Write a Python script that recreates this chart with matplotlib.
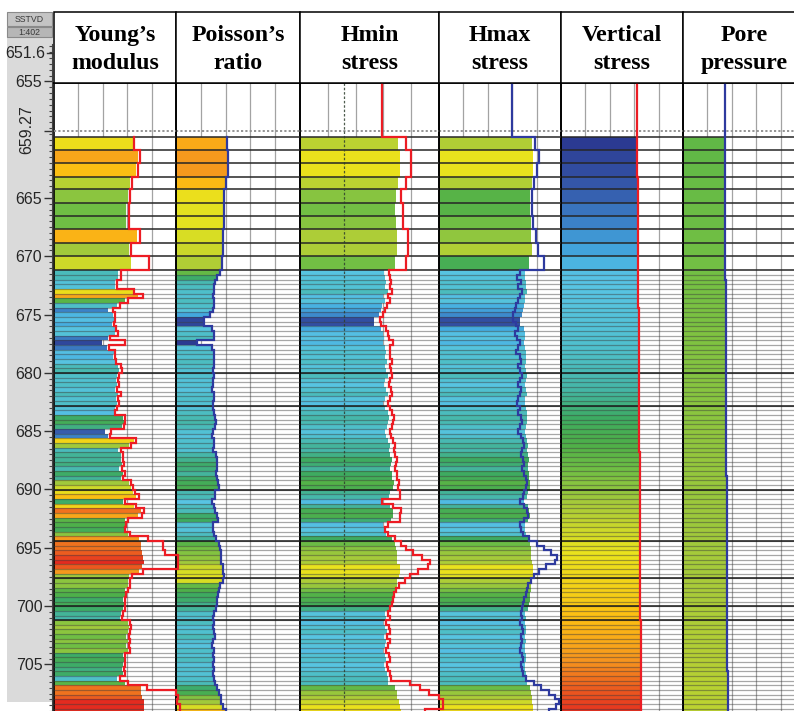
import numpy as np
import matplotlib
matplotlib.use("Agg")
import matplotlib.pyplot as plt
from matplotlib.colors import LinearSegmentedColormap, Normalize
from matplotlib.patches import Rectangle
from matplotlib.lines import Line2D
from matplotlib.ticker import FixedLocator, MultipleLocator

# ---------------------------------------------------------------- data
# Layer boundaries (m, SSTVD): coarse layers of the upper unit, then the
# regular 0.4 m sampling of the lower unit.
upper_bounds = [659.74, 660.88, 662.02, 663.17, 664.25, 665.43, 666.54,
                667.66, 668.86, 670.02, 671.21]
lower_step = 0.4
lower_count = 95
zone_tops = [680.01, 682.81, 690.01, 694.41, 697.61, 700.01, 701.21]
interval_top = 659.27

# Young's modulus (GPa): layer value and raw log curve
youngs = [32.2, 34.3, 33.5, 31.0, 30.2, 29.7, 29.7, 33.9, 30.6, 31.4,
          26.4, 26.4, 25.2, 25.2, 32.2, 34.3, 29.3, 26.0, 22.3, 24.0,
          24.4, 23.6, 24.8, 25.2, 22.0, 19.8, 21.9, 24.4, 24.0, 24.8,
          26.4, 26.8, 26.0, 25.6, 26.0, 25.2, 26.4, 25.6, 26.0, 25.2,
          24.4, 28.1, 28.5, 27.7, 21.0, 22.3, 32.6, 30.6, 26.4, 27.3,
          27.3, 27.7, 26.8, 28.1, 27.3, 30.6, 31.4, 32.2, 33.5, 28.1,
          32.6, 35.5, 34.3, 29.3, 29.0, 28.5, 30.2, 34.7, 35.5, 35.5,
          35.9, 36.4, 36.8, 36.0, 34.7, 30.6, 30.2, 30.2, 29.3, 29.0,
          28.1, 28.5, 28.1, 27.3, 27.0, 30.2, 30.6, 30.2, 29.7, 30.2,
          29.7, 30.2, 28.1, 28.5, 28.1, 27.7, 28.1, 26.0, 29.3, 35.5,
          35.5, 35.9, 36.8, 36.8, 36.8]
youngs_log = [32.8, 35.1, 34.3, 31.8, 31.0, 30.6, 30.6, 35.1, 31.4, 38.8,
              27.3, 27.3, 26.0, 26.0, 32.8, 36.4, 30.2, 27.0, 24.0, 25.0,
              25.2, 24.6, 25.6, 26.4, 23.0, 29.3, 22.5, 25.2, 25.0, 25.6,
              27.3, 27.7, 26.8, 26.4, 26.8, 26.0, 27.3, 26.4, 26.8, 26.0,
              25.2, 28.9, 29.3, 28.5, 23.5, 23.1, 33.5, 31.4, 27.3, 28.1,
              28.1, 28.5, 27.7, 28.9, 28.1, 31.4, 32.2, 33.1, 34.7, 28.9,
              33.5, 36.8, 35.9, 30.2, 29.7, 29.3, 31.0, 38.4, 44.6, 44.6,
              45.5, 51.0, 51.0, 51.0, 36.4, 31.8, 31.0, 31.0, 30.2, 29.7,
              28.9, 29.3, 28.9, 28.1, 27.7, 31.0, 31.4, 31.0, 30.6, 31.0,
              30.6, 31.0, 28.9, 29.3, 28.9, 28.5, 28.9, 27.0, 30.2, 38.0,
              50.0, 51.0, 50.5, 51.5, 51.5]

# Poisson's ratio
poisson = [0.224, 0.226, 0.226, 0.222, 0.216, 0.215, 0.215, 0.214, 0.213, 0.211,
           0.206, 0.200, 0.195, 0.193, 0.192, 0.190, 0.193, 0.192, 0.189, 0.182,
           0.168, 0.168, 0.188, 0.192, 0.193, 0.150, 0.188, 0.192, 0.191, 0.193,
           0.192, 0.190, 0.191, 0.189, 0.190, 0.188, 0.191, 0.192, 0.190, 0.189,
           0.193, 0.195, 0.196, 0.194, 0.190, 0.188, 0.191, 0.192, 0.190, 0.196,
           0.198, 0.200, 0.199, 0.197, 0.200, 0.202, 0.203, 0.195, 0.194, 0.187,
           0.193, 0.194, 0.200, 0.201, 0.190, 0.189, 0.193, 0.197, 0.205, 0.207,
           0.208, 0.209, 0.210, 0.213, 0.214, 0.215, 0.214, 0.206, 0.204, 0.201,
           0.200, 0.198, 0.197, 0.192, 0.190, 0.193, 0.189, 0.191, 0.194, 0.190,
           0.188, 0.192, 0.190, 0.193, 0.189, 0.191, 0.190, 0.192, 0.194, 0.200,
           0.203, 0.208, 0.210, 0.214, 0.222]

# Minimum horizontal stress (MPa): layer value and raw log curve
hmin = [12.05, 12.2, 12.2, 12.05, 11.9, 11.85, 11.9, 12.0, 12.0, 11.85,
        11.05, 11.1, 11.2, 11.15, 11.3, 11.0, 11.1, 10.9, 10.8, 10.7,
        10.35, 10.35, 10.85, 11.0, 11.05, 10.95, 11.1, 11.2, 11.15, 11.25,
        11.1, 11.2, 11.3, 11.15, 11.05, 11.2, 11.3, 11.1, 11.0, 11.15,
        11.3, 11.4, 11.35, 11.25, 11.1, 11.2, 11.35, 11.45, 11.4, 11.5,
        11.6, 11.55, 11.45, 11.6, 11.65, 11.75, 11.7, 11.47, 11.4, 10.97,
        11.45, 11.67, 11.7, 11.55, 11.0, 11.05, 11.2, 11.6, 11.83, 11.9,
        11.95, 11.98, 12.0, 12.19, 12.2, 12.15, 12.0, 11.95, 11.85, 11.75,
        11.7, 11.65, 11.5, 11.1, 11.2, 11.0, 11.15, 11.25, 11.05, 11.2,
        11.1, 11.0, 11.15, 11.2, 11.05, 11.1, 11.25, 11.3, 11.3, 11.8,
        11.95, 12.0, 12.1, 12.2, 12.25]
hmin_log = [12.62, 12.98, 12.98, 12.62, 12.27, 12.4, 12.4, 12.8, 12.8, 12.62,
            11.4, 11.5, 11.55, 11.5, 11.6, 11.35, 11.45, 11.25, 11.15, 11.0,
            10.75, 10.8, 11.2, 11.35, 11.4, 11.7, 11.5, 11.5, 11.45, 11.6,
            11.45, 11.55, 11.65, 11.5, 11.4, 11.55, 11.65, 11.45, 11.35, 11.5,
            11.65, 11.75, 11.7, 11.6, 11.45, 11.55, 11.7, 11.8, 11.75, 11.85,
            11.95, 11.9, 11.8, 11.95, 12.0, 12.1, 12.05, 12.19, 12.19, 10.9,
            11.7, 12.3, 12.19, 12.19, 11.3, 11.1, 11.3, 11.8, 12.3, 12.6,
            13.1, 13.8, 14.35, 14.2, 13.5, 12.9, 12.55, 12.1, 11.9, 11.75,
            11.7, 11.65, 11.5, 11.3, 11.45, 11.2, 11.4, 11.5, 11.25, 11.45,
            11.35, 11.2, 11.4, 11.45, 11.25, 11.35, 11.5, 11.55, 12.9, 13.6,
            14.3, 15.0, 15.3, 15.3, 14.0]
hmin_log_above = 10.88

# Maximum horizontal stress (MPa): layer value and raw log curve
hmax = [17.6, 17.7, 17.7, 17.6, 17.45, 17.45, 17.5, 17.55, 17.6, 17.4,
        17.04, 17.07, 17.13, 17.10, 17.19, 17.01, 17.07, 16.95, 16.90, 16.84,
        16.64, 16.64, 16.93, 17.01, 17.04, 16.98, 17.07, 17.13, 17.10, 17.16,
        17.07, 17.13, 17.19, 17.10, 17.04, 17.13, 17.19, 17.07, 17.01, 17.10,
        17.19, 17.24, 17.22, 17.16, 17.07, 17.13, 17.22, 17.27, 17.24, 17.30,
        17.36, 17.33, 17.27, 17.36, 17.39, 17.45, 17.42, 17.28, 17.24, 16.99,
        17.27, 17.40, 17.42, 17.33, 17.01, 17.04, 17.13, 17.36, 17.49, 17.53,
        17.56, 17.58, 17.59, 17.70, 17.71, 17.68, 17.59, 17.56, 17.51, 17.45,
        17.42, 17.39, 17.30, 17.07, 17.13, 17.01, 17.10, 17.16, 17.04, 17.13,
        17.07, 17.01, 17.10, 17.13, 17.04, 17.07, 17.16, 17.19, 17.19, 17.49,
        17.56, 17.59, 17.65, 17.71, 17.74]
hmax_log = [17.9, 18.2, 18.05, 17.75, 17.6, 17.6, 17.7, 17.95, 18.1, 18.6,
            16.6, 16.4, 16.7, 16.5, 16.8, 16.6, 16.45, 16.3, 16.2, 16.1,
            16.1, 16.3, 16.5, 16.2, 16.4, 16.6, 16.5, 16.3, 16.6, 16.7,
            16.5, 16.6, 16.8, 16.6, 16.5, 16.7, 16.6, 16.5, 16.4, 16.6,
            16.5, 16.7, 16.8, 16.6, 16.5, 16.7, 16.9, 17.0, 16.8, 16.7,
            16.9, 17.0, 16.8, 17.0, 17.1, 17.2, 17.1, 17.0, 16.9, 16.6,
            17.0, 17.2, 17.3, 17.0, 16.6, 16.7, 16.9, 17.4, 18.0, 18.6,
            19.2, 19.7, 19.5, 18.8, 18.2, 17.8, 17.5, 17.3, 17.2, 17.1,
            17.0, 16.9, 16.8, 16.7, 16.8, 16.6, 16.8, 16.9, 16.7, 16.8,
            16.7, 16.6, 16.8, 16.9, 16.7, 16.8, 16.9, 17.1, 17.8, 18.4,
            19.0, 19.5, 19.8, 19.6, 19.0]
hmax_log_above = 15.96

# Vertical (overburden) stress (MPa)
vertical = [15.600, 15.630, 15.650, 15.680, 15.700, 15.730, 15.750, 15.780, 15.800, 15.830,
            15.855, 15.860, 15.862, 15.866, 15.870, 15.872, 15.876, 15.880, 15.883, 15.886,
            15.890, 15.893, 15.897, 15.905, 15.912, 15.918, 15.925, 15.931, 15.938, 15.944,
            15.950, 15.957, 15.963, 15.970, 15.977, 15.985, 15.993, 16.001, 16.009, 16.017,
            16.025, 16.033, 16.041, 16.049, 16.057, 16.065, 16.071, 16.077, 16.083, 16.089,
            16.095, 16.101, 16.107, 16.113, 16.119, 16.125, 16.131, 16.137, 16.143, 16.149,
            16.155, 16.161, 16.167, 16.173, 16.179, 16.185, 16.191, 16.197, 16.202, 16.207,
            16.212, 16.217, 16.222, 16.227, 16.232, 16.237, 16.242, 16.247, 16.252, 16.257,
            16.263, 16.269, 16.275, 16.281, 16.287, 16.293, 16.299, 16.305, 16.311, 16.317,
            16.325, 16.333, 16.341, 16.349, 16.357, 16.365, 16.373, 16.381, 16.389, 16.397,
            16.405, 16.413, 16.421, 16.429, 16.437]
vertical_above = 15.62

# Pore pressure (MPa)
pore = [6.850, 6.861, 6.873, 6.884, 6.895, 6.906, 6.918, 6.929, 6.940, 6.952,
        6.963, 6.967, 6.971, 6.975, 6.979, 6.983, 6.986, 6.990, 6.994, 6.998,
        7.002, 7.006, 7.010, 7.014, 7.018, 7.022, 7.025, 7.029, 7.033, 7.037,
        7.041, 7.045, 7.049, 7.053, 7.057, 7.061, 7.064, 7.068, 7.072, 7.076,
        7.080, 7.084, 7.088, 7.092, 7.096, 7.100, 7.104, 7.107, 7.111, 7.115,
        7.119, 7.123, 7.127, 7.131, 7.135, 7.139, 7.143, 7.146, 7.150, 7.154,
        7.158, 7.162, 7.166, 7.170, 7.174, 7.178, 7.182, 7.185, 7.189, 7.193,
        7.197, 7.201, 7.205, 7.209, 7.213, 7.217, 7.221, 7.224, 7.228, 7.232,
        7.236, 7.240, 7.244, 7.248, 7.252, 7.256, 7.260, 7.263, 7.267, 7.271,
        7.275, 7.279, 7.283, 7.287, 7.291, 7.295, 7.299, 7.302, 7.306, 7.310,
        7.314, 7.318, 7.322, 7.326, 7.330]
pore_above = 6.85

depth_major = [655, 665, 670, 675, 680, 685, 690, 695, 700, 705]

# ---------------------------------------------------------------- layout
W, H = 794, 711
TOP_DEPTH, BASE_DEPTH = 655.14, 709.0
PLOT_TOP, PLOT_BOTTOM = 83, 711
HEAD_TOP = 12

lower_bounds = np.round(upper_bounds[-1] + lower_step * np.arange(1, lower_count + 1), 2)
bounds = np.concatenate([upper_bounds, lower_bounds])
n_layers = len(bounds) - 1

rainbow = LinearSegmentedColormap.from_list("log_rainbow", [
    (0.00, "#2b3a92"), (0.10, "#3558a9"), (0.18, "#3b83c8"), (0.25, "#44ace0"),
    (0.31, "#58c4e4"), (0.38, "#4fc0cc"), (0.45, "#45b6a6"), (0.51, "#3dab62"),
    (0.56, "#4fb048"), (0.60, "#72bf44"), (0.65, "#a8cb39"), (0.72, "#e9e31d"),
    (0.80, "#fcc212"), (0.88, "#f6961e"), (1.00, "#e3241f")])

RED, BLUE = "#ec1c24", "#2e3a9e"

tracks = [
    dict(title=("Young\u2019s", "modulus"), x0=54, x1=176, xlim=(0, 50), grid=[10, 20, 30, 40],
         fill=youngs, curve=youngs_log, above=None, crange=(19, 37), color=RED),
    dict(title=("Poisson\u2019s", "ratio"), x0=176, x1=300, xlim=(0.1, 0.4),
         grid=[0.16, 0.22, 0.28, 0.34], fill=poisson, curve=poisson, above=None,
         crange=(0.165, 0.235), color=BLUE),
    dict(title=("Hmin", "stress"), x0=300, x1=439, xlim=(5, 15), grid=[7, 9, 11, 13],
         fill=hmin, curve=hmin_log, above=hmin_log_above, crange=(10.15, 12.98), color=RED,
         ref=8.2),
    dict(title=("Hmax", "stress"), x0=439, x1=561, xlim=(10, 20), grid=[12, 14, 16, 18],
         fill=hmax, curve=hmax_log, above=hmax_log_above, crange=(16.52, 18.16), color=BLUE),
    dict(title=("Vertical", "stress"), x0=561, x1=683, xlim=(0, 25), grid=[5, 10, 15, 20],
         fill=vertical, curve=vertical, above=vertical_above, crange=(15.6, 16.45), color=RED),
    dict(title=("Pore", "pressure"), x0=683, x1=805, xlim=(0, 20), grid=[4, 8, 12, 16],
         fill=pore, curve=pore, above=pore_above, crange=(3.76, 9.09), color=BLUE),
]
for t in tracks:
    assert len(t["fill"]) == n_layers and len(t["curve"]) == n_layers

fig = plt.figure(figsize=(W / 100, H / 100), dpi=100)
fig.patch.set_facecolor("white")


def fx(x):
    return x / W


def fy(y):
    return 1 - y / H


def fig_rect(x0, y0, x1, y1, **kw):
    r = Rectangle((fx(x0), fy(y1)), (x1 - x0) / W, (y1 - y0) / H,
                  transform=fig.transFigure, **kw)
    fig.add_artist(r)
    return r


def step_path(values, above=None):
    ys = np.repeat(bounds, 2)[1:-1]
    xs = np.repeat(np.asarray(values, float), 2)
    if above is not None:
        ys = np.concatenate([[TOP_DEPTH, bounds[0]], ys])
        xs = np.concatenate([[above, above], xs])
    return xs, ys


# depth column background and scale header
fig_rect(7, HEAD_TOP, 53, 702, facecolor="#dadada", edgecolor="none", zorder=0)
fig_rect(7, HEAD_TOP, 52, 26, facecolor="#c4c4c4", edgecolor="#8a8a8a", lw=0.8, zorder=1)
fig_rect(7, 27, 52, 37, facecolor="#b6b6b6", edgecolor="#8a8a8a", lw=0.8, zorder=1)
fig.text(fx(29.5), fy(19.5), "SSTVD", ha="center", va="center", fontsize=6.3,
         family="Liberation Sans", color="#3a3a3a")
fig.text(fx(29.5), fy(32.2), "1:402", ha="center", va="center", fontsize=6.3,
         family="Liberation Sans", color="#3a3a3a")
fig.text(fx(45), fy(53), "651.6", ha="right", va="center", fontsize=11.5,
         family="Liberation Sans", color="#262626")
fig.add_artist(Line2D([fx(47), fx(52)], [fy(53), fy(53)], transform=fig.transFigure,
                      color="#333333", lw=1))
fig.text(fx(27), fy(130), f"{interval_top:.2f}", ha="center", va="center", rotation=90,
         fontsize=11.5, family="Liberation Sans", color="#262626")

# depth scale
depth_ax_top = 44
px_per_m = (PLOT_BOTTOM - PLOT_TOP) / (BASE_DEPTH - TOP_DEPTH)
ax_d = fig.add_axes([fx(52), fy(PLOT_BOTTOM), 1 / W, (PLOT_BOTTOM - depth_ax_top) / H])
ax_d.set_ylim(BASE_DEPTH, TOP_DEPTH - (PLOT_TOP - depth_ax_top) / px_per_m)
ax_d.set_facecolor("none")
for s in ("top", "right", "bottom"):
    ax_d.spines[s].set_visible(False)
ax_d.spines["left"].set_color("#444444")
ax_d.set_xticks([])
ax_d.yaxis.set_major_locator(FixedLocator(depth_major + [interval_top]))
ax_d.set_yticklabels([str(v) for v in depth_major] + [""])
ax_d.yaxis.set_minor_locator(MultipleLocator(0.5))
ax_d.tick_params(axis="y", which="major", direction="out", length=5.5, width=1,
                 color="#333333", pad=1.5, labelsize=11.5, labelcolor="#262626")
ax_d.tick_params(axis="y", which="minor", direction="out", length=2.5, width=0.8,
                 color="#444444")
for lab in ax_d.get_yticklabels():
    lab.set_family("Liberation Sans")

# header boxes
for t in tracks:
    fig_rect(t["x0"], HEAD_TOP, t["x1"], PLOT_TOP, facecolor="white", edgecolor="black",
             lw=1.1, zorder=2)
    xc = fx((t["x0"] + t["x1"]) / 2)
    fig.text(xc, fy(41), t["title"][0], ha="center", va="baseline", fontsize=17.2,
             family="Liberation Serif", weight="bold", zorder=3)
    fig.text(xc, fy(69), t["title"][1], ha="center", va="baseline", fontsize=17.2,
             family="Liberation Serif", weight="bold", zorder=3)

# tracks, created right to left so curves spilling over a border stay visible
for t in reversed(tracks):
    ax = fig.add_axes([fx(t["x0"]), fy(PLOT_BOTTOM), (t["x1"] - t["x0"]) / W,
                       (PLOT_BOTTOM - PLOT_TOP) / H])
    ax.set_facecolor("none")
    ax.set_xlim(*t["xlim"])
    ax.set_ylim(BASE_DEPTH, TOP_DEPTH)
    ax.set_xticks([])
    ax.set_yticks([])
    for s in ("left", "right", "top"):
        ax.spines[s].set_color("black")
        ax.spines[s].set_linewidth(1.2)
    ax.spines["bottom"].set_visible(False)

    for g in t["grid"]:
        ax.axvline(g, color="#a3a3a3", lw=0.9, zorder=1)

    norm = Normalize(*t["crange"], clip=True)
    x_left = t["xlim"][0]
    vals = np.asarray(t["fill"], float)
    tops, bases = bounds[:-1], bounds[1:]
    ax.barh(tops, vals - x_left, left=x_left, height=bases - tops, align="edge",
            color=rainbow(norm(vals)), edgecolor="none", zorder=2)

    for d in lower_bounds[:-1]:
        ax.axhline(d, color="#3c3c3c", alpha=0.45, lw=0.9, zorder=3)
    for d in upper_bounds:
        ax.axhline(d, color="#262626", lw=1.1, zorder=3.2)
    for d in zone_tops:
        ax.axhline(d, color="#1a1a1a", lw=1.1, zorder=3.2)
    ax.axhline(interval_top, color="#8c8c8c", lw=1.3, ls=(0, (1.2, 1.2)), zorder=3.2)

    if "ref" in t:
        ax.axvline(t["ref"], color="#2f3f2f", lw=0.9, ls=(0, (2, 1.5)), alpha=0.85, zorder=3.5)

    xs, ys = step_path(t["curve"], t["above"])
    ax.plot(xs, ys, color=t["color"], lw=1.6, zorder=5, clip_on=False,
            solid_joinstyle="miter")

fig.savefig("out.png", dpi=100, facecolor="white")
